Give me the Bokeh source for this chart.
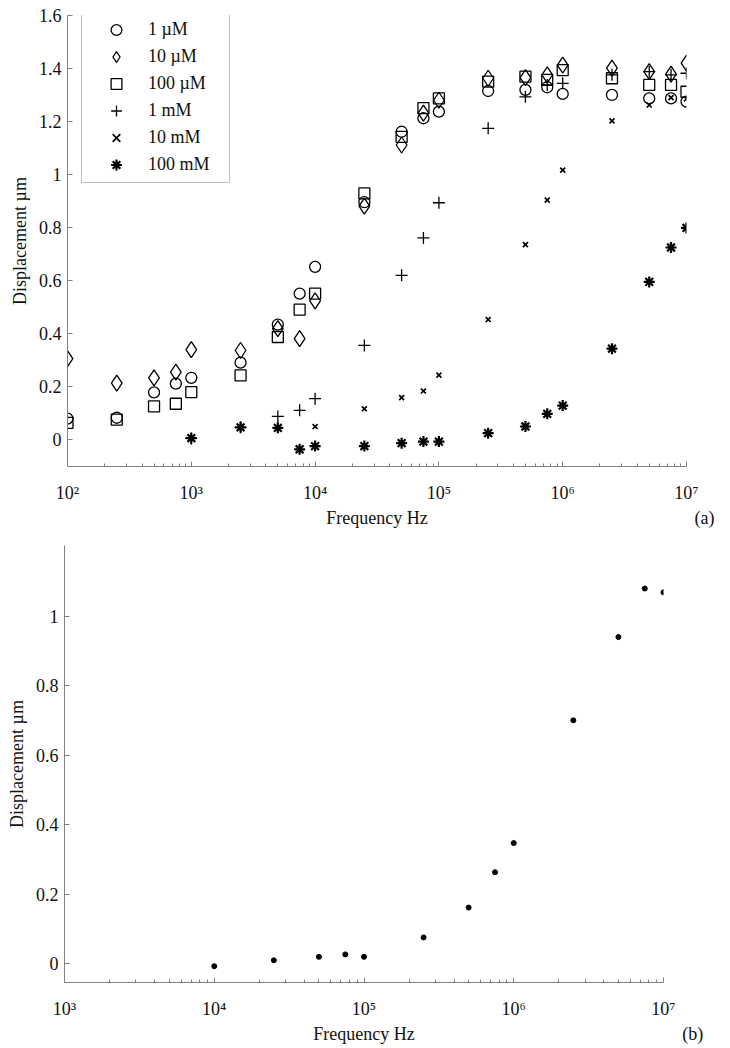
import numpy as np
from bokeh.plotting import figure
from bokeh.models import (FixedTicker, Legend, LegendItem, CustomJSTickFormatter,
                          LinearAxis, Range1d)
from bokeh.embed import file_html
from bokeh.resources import INLINE

# ---------------- data: panel (a) ----------------
freq_a = [1e2, 2.5e2, 5e2, 7.5e2, 1e3, 2.5e3, 5e3, 7.5e3, 1e4, 2.5e4, 5e4, 7.5e4,
          1e5, 2.5e5, 5e5, 7.5e5, 1e6, 2.5e6, 5e6, 7.5e6, 1e7]
d_1uM = [0.078, 0.081, 0.177, 0.210, 0.232, 0.289, 0.433, 0.550, 0.651, 0.895, 1.161, 1.212,
         1.237, 1.315, 1.319, 1.329, 1.304, 1.300, 1.287, 1.287, 1.275]
d_10uM = [0.304, 0.212, 0.232, 0.253, 0.338, 0.335, 0.418, 0.380, 0.522, 0.880, 1.111, 1.231,
          1.280, 1.363, 1.365, 1.376, 1.413, 1.401, 1.388, 1.379, 1.420]
d_100uM = [0.062, 0.074, 0.124, 0.134, 0.178, 0.241, 0.386, 0.489, 0.550, 0.928, 1.142, 1.250,
           1.287, 1.350, 1.369, 1.357, 1.394, 1.363, 1.338, 1.338, 1.312]
freq_1mM = [1e3, 2.5e3, 5e3, 7.5e3, 1e4, 2.5e4, 5e4, 7.5e4, 1e5, 2.5e5, 5e5, 7.5e5,
            1e6, 2.5e6, 5e6, 7.5e6, 1e7]
d_1mM = [0.003, 0.045, 0.086, 0.109, 0.153, 0.354, 0.619, 0.760, 0.893, 1.174, 1.293, 1.338,
         1.344, 1.376, 1.388, 1.376, 1.382]
freq_10mM = [1e4, 2.5e4, 5e4, 7.5e4, 1e5, 2.5e5, 5e5, 7.5e5, 1e6, 2.5e6, 5e6, 7.5e6, 1e7]
d_10mM = [0.048, 0.115, 0.157, 0.182, 0.242, 0.452, 0.735, 0.903, 1.016, 1.202, 1.262, 1.290, 1.285]
freq_100mM = [1e3, 2.5e3, 5e3, 7.5e3, 1e4, 2.5e4, 5e4, 7.5e4, 1e5, 2.5e5, 5e5, 7.5e5,
              1e6, 2.5e6, 5e6, 7.5e6, 1e7]
d_100mM = [0.004, 0.045, 0.043, -0.038, -0.026, -0.026, -0.015, -0.009, -0.009, 0.023, 0.048, 0.096,
           0.127, 0.342, 0.594, 0.724, 0.798]
labels_a = ["1 \u00b5M", "10 \u00b5M", "100 \u00b5M", "1 mM", "10 mM", "100 mM"]

# ---------------- data: panel (b) ----------------
freq_b = [1e4, 2.5e4, 5e4, 7.5e4, 1e5, 2.5e5, 5e5, 7.5e5, 1e6, 2.5e6, 5e6, 7.5e6, 1e7]
d_b = [-0.008, 0.009, 0.019, 0.026, 0.019, 0.075, 0.161, 0.263, 0.347, 0.701, 0.941, 1.081, 1.070]

x_title = "Frequency Hz"
y_title = "Displacement \u00b5m"

FONT = "Liberation Serif"
AXC = "#808080"
TXT = "#111111"

sup_fmt = CustomJSTickFormatter(code="""
const sup = {0:'\u2070',1:'\u00b9',2:'\u00b2',3:'\u00b3',4:'\u2074',5:'\u2075',6:'\u2076',7:'\u2077',8:'\u2078',9:'\u2079'};
const e = Math.round(Math.log10(tick));
return '10' + sup[e];
""")
y_fmt = CustomJSTickFormatter(code="return (Math.round(tick*10)/10).toString();")


def style(p, xdec, yticks):
    p.outline_line_color = None
    p.grid.visible = False
    p.background_fill_color = "white"
    p.border_fill_color = "white"
    minor = [m * 10 ** d for d in xdec[:-1] for m in range(2, 10)]
    p.xaxis.ticker = FixedTicker(ticks=[10.0 ** d for d in xdec], minor_ticks=minor)
    p.xaxis.formatter = sup_fmt
    p.yaxis.ticker = FixedTicker(ticks=yticks, minor_ticks=[])
    p.yaxis.formatter = y_fmt
    for ax in (p.xaxis[0], p.yaxis[0]):
        ax.axis_line_color = AXC
        ax.major_tick_line_color = AXC
        ax.minor_tick_line_color = AXC
        ax.major_tick_in = 5
        ax.major_tick_out = 0
        ax.minor_tick_in = 3
        ax.minor_tick_out = 0
        ax.major_label_text_font = FONT
        ax.major_label_text_font_size = "18px"
        ax.major_label_text_color = TXT
        ax.axis_label_text_font = FONT
        ax.axis_label_text_font_size = "18px"
        ax.axis_label_text_font_style = "normal"
        ax.axis_label_text_color = TXT
    p.xaxis.major_label_standoff = 16
    p.yaxis.major_label_standoff = 6
    p.yaxis.axis_label_standoff = 6
    p.yaxis.axis_label = y_title


def add_caption_axis(p, tag, pad):
    # x-axis title and panel tag share one text row below the tick labels;
    # a 1..10 range on the (log) x scale maps frame fraction f to 10**f
    p.extra_x_ranges = {"cap": Range1d(1, 10)}
    fmt = CustomJSTickFormatter(args=dict(t1=x_title, t2="\u00a0" * pad + tag),
                                code="return tick < 9.9 ? t1 : t2;")
    ax = LinearAxis(x_range_name="cap", ticker=FixedTicker(ticks=[10 ** 0.5, 10.0], minor_ticks=[]),
                    formatter=fmt, axis_line_color=None, major_tick_line_color=None,
                    minor_tick_line_color=None, major_tick_in=0, major_tick_out=0,
                    major_label_standoff=2,
                    major_label_text_font=FONT, major_label_text_font_size="18px",
                    major_label_text_color=TXT)
    p.add_layout(ax, "below")


# ---------------- panel (a) ----------------
pa = figure(width=730, height=530, x_axis_type="log", x_range=(1e2, 1e7), y_range=(-0.103, 1.6),
            output_backend="svg", toolbar_location=None,
            min_border_left=67, min_border_right=44, min_border_top=15, min_border_bottom=64)
style(pa, [2, 3, 4, 5, 6, 7], [0, 0.2, 0.4, 0.6, 0.8, 1.0, 1.2, 1.4, 1.6])
add_caption_axis(pa, "(a)", 8)

kw = dict(fill_color=None, line_color="black", line_width=1.3)
r1 = pa.scatter(freq_a, d_1uM, marker="circle", size=11, **kw)
r2 = pa.scatter(freq_a, d_10uM, marker="diamond", size=16, **kw)
r3 = pa.scatter(freq_a, d_100uM, marker="square", size=11, **kw)
r4 = pa.scatter(freq_1mM, d_1mM, marker="cross", size=12, **kw)
r5 = pa.scatter(freq_10mM, d_10mM, marker="x", size=7, line_color="black", line_width=1.7)
r6 = pa.scatter(freq_100mM, d_100mM, marker="asterisk", size=11, line_color="black", line_width=2.2)

items = [LegendItem(label=l, renderers=[r]) for l, r in zip(labels_a, [r1, r2, r3, r4, r5, r6])]
leg = Legend(items=items, location=(14, 283), orientation="vertical",
             padding=4, spacing=0, glyph_width=60, glyph_height=27, label_height=27,
             label_width=77, label_standoff=2, margin=0,
             label_text_font=FONT, label_text_font_size="18px", label_text_color=TXT,
             border_line_color=AXC, border_line_width=1, background_fill_alpha=1)
pa.add_layout(leg, "center")

# ---------------- panel (b) ----------------
pb = figure(width=730, height=516, x_axis_type="log", x_range=(1e3, 1e7), y_range=(-0.055, 1.205),
            output_backend="svg", toolbar_location=None,
            min_border_left=64, min_border_right=67, min_border_top=15, min_border_bottom=64)
style(pb, [3, 4, 5, 6, 7], [0, 0.2, 0.4, 0.6, 0.8, 1.0])
add_caption_axis(pb, "(b)", 13)
pb.scatter(freq_b, d_b, marker="circle", size=5, fill_color="black", line_color="black")

open("out.html", "w").write(file_html([pa, pb], INLINE))
